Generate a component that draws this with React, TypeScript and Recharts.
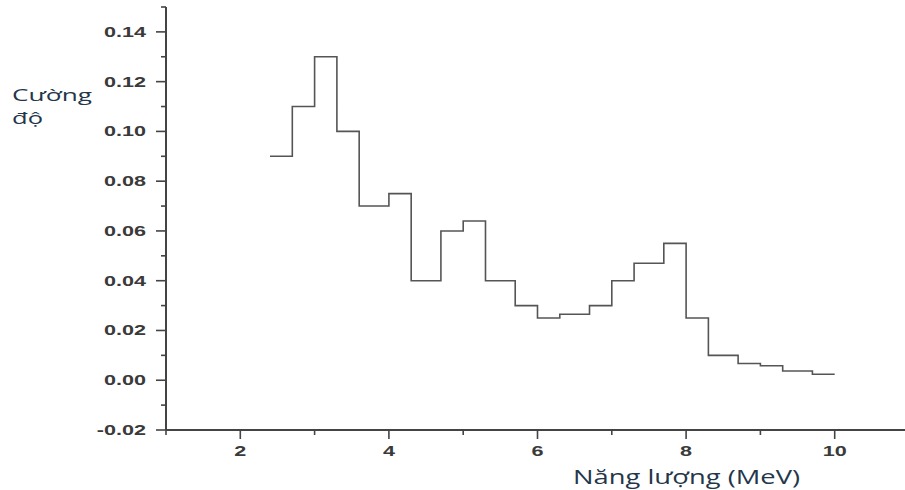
import { LineChart, Line, XAxis, YAxis } from 'recharts';

// bin edges (MeV) and intensity of each bin
const binEdges = [2.4, 2.7, 3.0, 3.3, 3.6, 4.0, 4.3, 4.7, 5.0, 5.3, 5.7, 6.0, 6.3, 6.7, 7.0, 7.3, 7.7, 8.0, 8.3, 8.7, 9.0, 9.3, 9.7, 10.0];
const intensity = [0.09, 0.11, 0.13, 0.1, 0.07, 0.075, 0.04, 0.06, 0.064, 0.04, 0.03, 0.025, 0.0265, 0.03, 0.04, 0.047, 0.055, 0.025, 0.01, 0.0067, 0.0058, 0.0037, 0.0024];

const xMajorTicks = [2, 4, 6, 8, 10];
const xTicks = [1, 2, 3, 4, 5, 6, 7, 8, 9, 10, 11];
const yMajorTicks = [-0.02, 0, 0.02, 0.04, 0.06, 0.08, 0.1, 0.12, 0.14];
const yTicks = [-0.02, -0.01, 0, 0.01, 0.02, 0.03, 0.04, 0.05, 0.06, 0.07, 0.08, 0.09, 0.1, 0.11, 0.12, 0.13, 0.14, 0.15];

const data = binEdges.map((e, i) => ({ x: e, y: intensity[Math.min(i, intensity.length - 1)] }));

const AXIS = '#444';
const LABEL = '#3a3a3a';
const TITLE = '#24364a';
const SX = 1.44; // the picture is stretched sideways

function YTick(props: any) {
  const { x, y, payload } = props;
  const major = yMajorTicks.includes(payload.value);
  return (
    <g>
      <line x1={x - (major ? 10 : 5)} x2={x} y1={y} y2={y} stroke={AXIS} strokeWidth={1.6} />
      {major && (
        <text
          transform={`translate(${x - 20},${y + 5}) scale(${SX},1)`}
          textAnchor="end"
          fontFamily="'Liberation Sans', Arial, sans-serif"
          fontWeight="bold"
          fontSize={15}
          fill={LABEL}
        >
          {payload.value.toFixed(2)}
        </text>
      )}
    </g>
  );
}

function XTick(props: any) {
  const { x, y, payload } = props;
  const major = xMajorTicks.includes(payload.value);
  return (
    <g>
      <line x1={x} x2={x} y1={y} y2={y + (major ? 9 : 5)} stroke={AXIS} strokeWidth={1.6} />
      {major && (
        <text
          transform={`translate(${x},${y + 26}) scale(${SX},1)`}
          textAnchor="middle"
          fontFamily="'Liberation Sans', Arial, sans-serif"
          fontWeight="bold"
          fontSize={15}
          fill={LABEL}
        >
          {payload.value}
        </text>
      )}
    </g>
  );
}

export default function App() {
  return (
    <div style={{ position: 'absolute', left: 0, top: 0, width: 905, height: 490, background: '#fff' }}>
      <LineChart width={905} height={490} data={data} margin={{ top: 7, right: -4, left: 106, bottom: 30 }}>
        <XAxis
          dataKey="x"
          type="number"
          domain={[1, 11]}
          ticks={xTicks}
          interval={0}
          height={30}
          tickSize={0}
          tickMargin={0}
          tickLine={false}
          axisLine={{ stroke: AXIS, strokeWidth: 2 }}
          tick={(p: any) => <XTick {...p} />}
        />
        <YAxis
          type="number"
          domain={[-0.02, 0.15]}
          ticks={yTicks}
          interval={0}
          width={60}
          tickSize={0}
          tickMargin={0}
          tickLine={false}
          axisLine={{ stroke: AXIS, strokeWidth: 2 }}
          tick={(p: any) => <YTick {...p} />}
        />
        <Line
          type="stepAfter"
          dataKey="y"
          stroke="#555"
          strokeWidth={1.6}
          dot={false}
          isAnimationActive={false}
        />
      </LineChart>
      <svg width={905} height={490} style={{ position: 'absolute', left: 0, top: 0, pointerEvents: 'none' }}>
        <g fontFamily="'Open Sans', sans-serif" fill={TITLE}>
          <text x={12} y={101} fontSize={16} textLength={80} lengthAdjust="spacingAndGlyphs">Cường</text>
          <text x={12} y={124} fontSize={16} textLength={31} lengthAdjust="spacingAndGlyphs">độ</text>
          <text x={573} y={484} fontSize={20} textLength={227} lengthAdjust="spacingAndGlyphs">Năng lượng (MeV)</text>
        </g>
      </svg>
    </div>
  );
}
